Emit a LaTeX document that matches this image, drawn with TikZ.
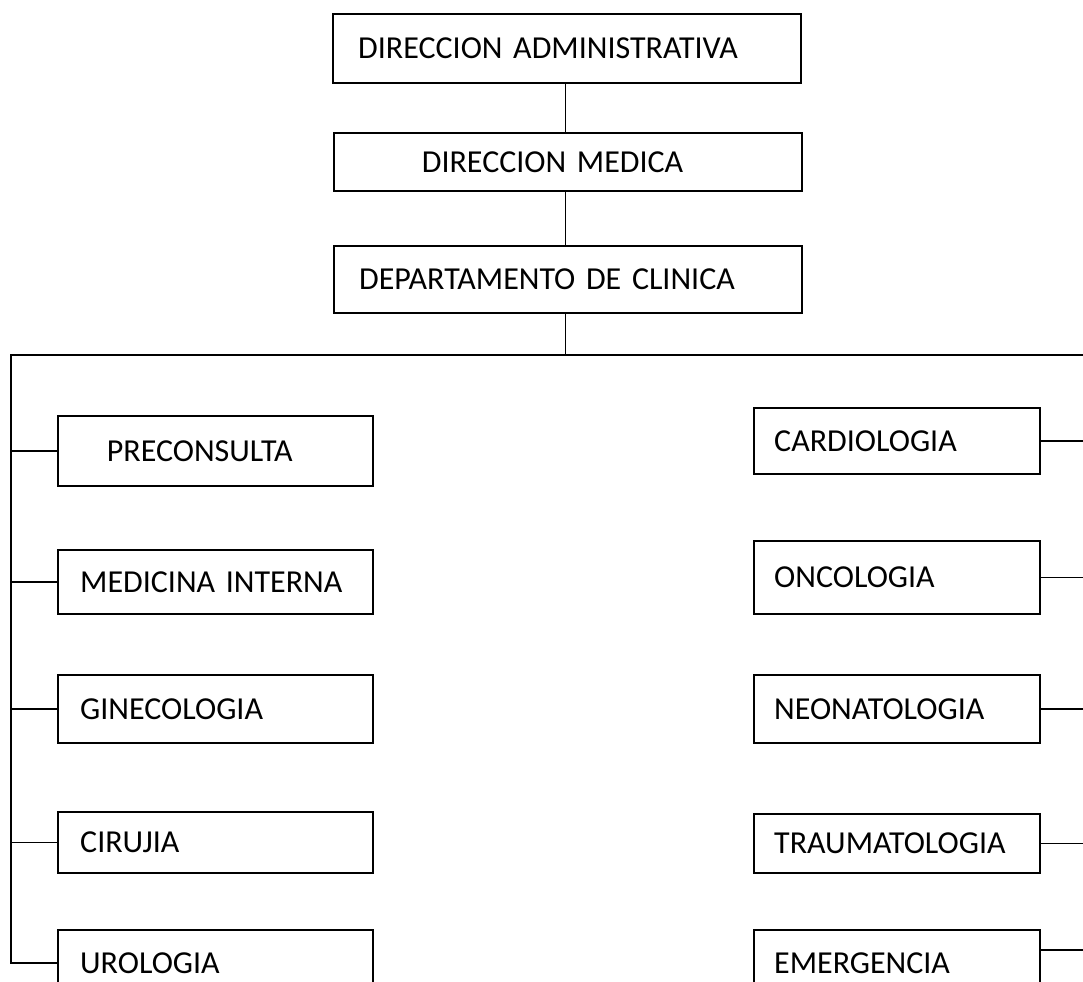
\documentclass[tikz,border=0pt]{standalone}
\usepackage{fontspec}
\setmainfont{Carlito}
\tikzset{
  caja/.style={draw, line width=1.8pt, anchor=west, align=left,
    inner ysep=0pt, font=\fontsize{24}{28}\selectfont},
  cajasup/.style={caja, text width=313.5pt, inner xsep=18.75pt},
  cajaizq/.style={caja, text width=203.25pt, inner xsep=16.5pt},
  cajader/.style={caja, text width=184.5pt, inner xsep=15pt},
  linea/.style={line width=1pt},
}
\begin{document}
\begin{tikzpicture}[x=0.75pt,y=-0.75pt]
      \clip (0,0) rectangle (1083,982);
      \node[cajasup, minimum height=51.75pt] (admin) at (332,48.5) {DIRECCION ADMINISTRATIVA};
      \node[cajasup, minimum height=43.5pt] (medica) at (333,162) {\hspace*{47pt}DIRECCION MEDICA};
      \node[cajasup, minimum height=50.25pt] (clinica) at (333,279.5) {DEPARTAMENTO DE CLINICA};
      \coordinate (izq) at (11,355);
      \coordinate (der) at (1083,355);
      % lado izquierdo
      \node[cajaizq, minimum height=52.5pt] (preconsulta) at (57,451) {\hspace*{20pt}PRECONSULTA};
      \node[cajaizq, minimum height=48pt] (medicina) at (57,582) {MEDICINA INTERNA};
      \node[cajaizq, minimum height=51pt] (ginecologia) at (57,709) {GINECOLOGIA};
      \node[cajaizq, minimum height=45.75pt] (cirujia) at (57,842.5) {CIRUJIA};
      \node[cajaizq, minimum height=49.5pt] (urologia) at (57,963) {UROLOGIA};
      % lado derecho
      \node[cajader, minimum height=49.5pt] (cardiologia) at (753,441) {CARDIOLOGIA};
      \node[cajader, minimum height=54.75pt] (oncologia) at (753,577.5) {ONCOLOGIA};
      \node[cajader, minimum height=51pt] (neonatologia) at (753,709) {NEONATOLOGIA};
      \node[cajader, minimum height=44.25pt] (traumatologia) at (753,843.5) {TRAUMATOLOGIA};
      \node[cajader, minimum height=49.5pt] (emergencia) at (753,963) {EMERGENCIA};
      \begin{scope}[linea]
        \draw ([xshift=-2.25pt]medica.north) to ([xshift=-2.25pt]medica.north |- admin.south);
        \draw ([xshift=-2.25pt]medica.south) to ([xshift=-2.25pt]clinica.north);
        \draw ([xshift=-2.25pt]clinica.south) to ([xshift=-2.25pt]clinica.south |- izq);
        \draw (der) -- (izq) |- (urologia.west);
        \draw (preconsulta.west) to (preconsulta.west -| izq);
        \draw (medicina.west) to (medicina.west -| izq);
        \draw (ginecologia.west) to (ginecologia.west -| izq);
        \draw (cirujia.west) to (cirujia.west -| izq);
        \draw (cardiologia.east) to (cardiologia.east -| der);
        \draw (oncologia.east) to (oncologia.east -| der);
        \draw (neonatologia.east) to (neonatologia.east -| der);
        \draw (traumatologia.east) to (traumatologia.east -| der);
        \draw ([yshift=9.75pt]emergencia.east) to ([yshift=9.75pt]emergencia.east -| der);
      \end{scope}
    \end{tikzpicture}
\end{document}
